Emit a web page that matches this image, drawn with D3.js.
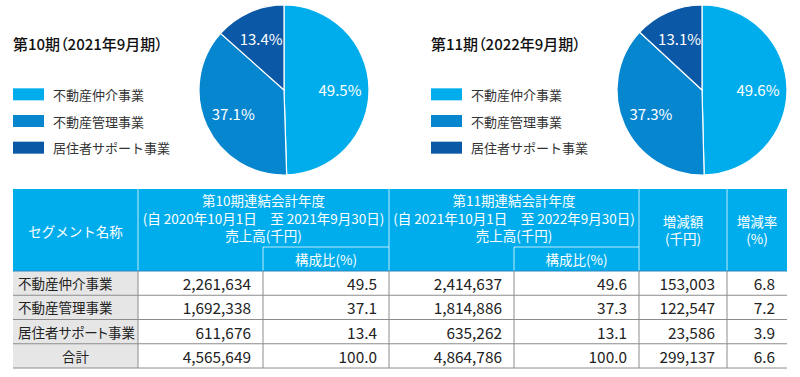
<!DOCTYPE html>
<html>
<head>
<meta charset="utf-8">
<script src="https://cdn.jsdelivr.net/npm/d3@7"></script>
<style>
  body { margin: 0; background: #fff; }
  svg { display: block; font-family: "Noto Sans CJK JP", "Noto Sans", sans-serif; }
</style>
</head>
<body>
<svg id="chart" width="800" height="377"></svg>
<script>
// segment data
const segments = ["不動産仲介事業", "不動産管理事業", "居住者サポート事業"];
const periodTitles = ["第10期（2021年9月期）", "第11期（2022年9月期）"];
const share10 = [49.5, 37.1, 13.4];
const share11 = [49.6, 37.3, 13.1];
const sales10 = [2261634, 1692338, 611676];
const sales11 = [2414637, 1814886, 635262];
const diffAmount = [153003, 122547, 23586];
const diffRate = [6.8, 7.2, 3.9];
const totalLabel = "合計";
const totals = { sales10: 4565649, share10: 100.0, sales11: 4864786, share11: 100.0, diff: 299137, rate: 6.6 };

const colors = ["#00adec", "#0786d0", "#0b58a6"];
const svg = d3.select("#chart");

// ---- pies + legends ----
const pieGen = d3.pie().sort(null).value(d => d);
const arc = d3.arc().innerRadius(0).outerRadius(85);
const labelArc = d3.arc().innerRadius(56).outerRadius(56);

function drawPanel(x0, cx, title, shares) {
    const g = svg.append("g");
    g.append("text")
        .attr("x", x0).attr("y", 43)
        .attr("dominant-baseline", "central")
        .style("font-size", "15px").style("font-weight", "500")
        .style("font-feature-settings", "'palt'")
        .style("fill", "#111")
        .text(title);

    const leg = d3.scaleBand().domain(segments).range([81, 161]);
    segments.forEach((s, i) => {
        const y = leg(s) + leg.bandwidth() / 2;
        g.append("rect")
            .attr("x", x0).attr("y", y - 6)
            .attr("width", 31).attr("height", 12)
            .style("fill", colors[i]);
        g.append("text")
            .attr("x", x0 + 40).attr("y", y)
            .attr("dominant-baseline", "central")
            .style("font-size", "13px").style("fill", "#333")
            .text(s);
    });

    const pg = g.append("g").attr("transform", `translate(${cx},90)`);
    const arcs = pieGen(shares);
    pg.selectAll("path").data(arcs).enter().append("path")
        .attr("d", arc)
        .style("fill", (d, i) => colors[i])
        .style("stroke", "#fff").style("stroke-width", 1.2);
    pg.selectAll("text").data(arcs).enter().append("text")
        .attr("transform", d => `translate(${labelArc.centroid(d)})`)
        .attr("text-anchor", "middle")
        .attr("dominant-baseline", "central")
        .style("font-size", "15px").style("fill", "#fff")
        .text(d => d3.format(".1f")(d.data) + "%");
}
drawPanel(13, 284, periodTitles[0], share10);
drawPanel(431, 702, periodTitles[1], share11);

// ---- table ----
const colX = [13, 138, 263, 389, 514, 639, 727, 787];
const headTop = 189, subLine = 247, headBottom = 271;
const rowNames = segments.concat([totalLabel]);
const rowScale = d3.scaleBand().domain(rowNames).range([headBottom, 368]);
const headBg = "#00adec";
const fmtInt = d3.format(",");
const fmt1 = d3.format(".1f");

const t = svg.append("g");
t.append("rect")
    .attr("x", colX[0]).attr("y", headTop)
    .attr("width", colX[7] - colX[0]).attr("height", headBottom - headTop)
    .style("fill", headBg);
t.append("rect")
    .attr("x", colX[0]).attr("y", headBottom)
    .attr("width", colX[1] - colX[0]).attr("height", 368 - headBottom)
    .style("fill", "#e6e6e6");

// header lines
const hl = "rgba(255,255,255,0.75)";
[colX[1], colX[3], colX[5], colX[6]].forEach(x => {
    t.append("line").attr("x1", x).attr("x2", x).attr("y1", headTop).attr("y2", headBottom)
        .style("stroke", hl).style("stroke-width", 1);
});
[[colX[2], colX[3]], [colX[4], colX[5]]].forEach(([a, b]) => {
    t.append("line").attr("x1", a).attr("x2", b).attr("y1", subLine).attr("y2", subLine)
        .style("stroke", hl);
    t.append("line").attr("x1", a).attr("x2", a).attr("y1", subLine).attr("y2", headBottom)
        .style("stroke", hl);
});

function headText(x, y, s) {
    t.append("text").attr("x", x).attr("y", y)
        .attr("text-anchor", "middle").attr("dominant-baseline", "central")
        .style("font-size", "13.5px").style("fill", "#fff").text(s);
}
headText((colX[0] + colX[1]) / 2, 231, "セグメント名称");
const periodHead = [
    ["第10期連結会計年度", "(自 2020年10月1日　至 2021年9月30日)", "売上高(千円)"],
    ["第11期連結会計年度", "(自 2021年10月1日　至 2022年9月30日)", "売上高(千円)"]
];
periodHead.forEach((lines, k) => {
    const cx = (colX[1 + 2 * k] + colX[3 + 2 * k]) / 2;
    lines.forEach((s, j) => headText(cx, 200 + j * 17.5, s));
    headText((colX[2 + 2 * k] + colX[3 + 2 * k]) / 2, 259, "構成比(%)");
});
headText((colX[5] + colX[6]) / 2, 221, "増減額");
headText((colX[5] + colX[6]) / 2, 238, "(千円)");
headText((colX[6] + colX[7]) / 2, 221, "増減率");
headText((colX[6] + colX[7]) / 2, 238, "(%)");

// body rows
const rowsData = segments.map((s, i) => [s, fmtInt(sales10[i]), fmt1(share10[i]), fmtInt(sales11[i]), fmt1(share11[i]), fmtInt(diffAmount[i]), fmt1(diffRate[i])]);
rowsData.push([totalLabel, fmtInt(totals.sales10), fmt1(totals.share10), fmtInt(totals.sales11), fmt1(totals.share11), fmtInt(totals.diff), fmt1(totals.rate)]);

rowsData.forEach(r => {
    const yc = rowScale(r[0]) + rowScale.bandwidth() / 2;
    r.forEach((v, c) => {
        const isName = c === 0;
        const isTotal = r[0] === totalLabel;
        t.append("text")
            .attr("x", isName ? (isTotal ? (colX[0] + colX[1]) / 2 : colX[0] + 5) : colX[c + 1] - 12)
            .attr("y", yc)
            .attr("text-anchor", isName ? (isTotal ? "middle" : "start") : "end")
            .attr("dominant-baseline", "central")
            .style("font-size", isName ? "13.5px" : "15.4px").style("fill", "#222")
            .style("font-feature-settings", isName ? "'palt'" : null)
            .text(v);
    });
});

// grid lines
const grid = "#8c8c8c";
rowNames.forEach(n => {
    const y = rowScale(n) + rowScale.bandwidth();
    t.append("line").attr("x1", colX[0]).attr("x2", colX[7]).attr("y1", y).attr("y2", y)
        .style("stroke", grid).style("stroke-width", 1);
});
colX.slice(1, 7).forEach(x => {
    t.append("line").attr("x1", x).attr("x2", x).attr("y1", headBottom).attr("y2", 368)
        .style("stroke", grid).style("stroke-width", 1);
});
t.append("line").attr("x1", colX[0]).attr("x2", colX[7]).attr("y1", headBottom).attr("y2", headBottom)
    .style("stroke", "#2b86c0").style("stroke-width", 1.2);
</script>
</body>
</html>
